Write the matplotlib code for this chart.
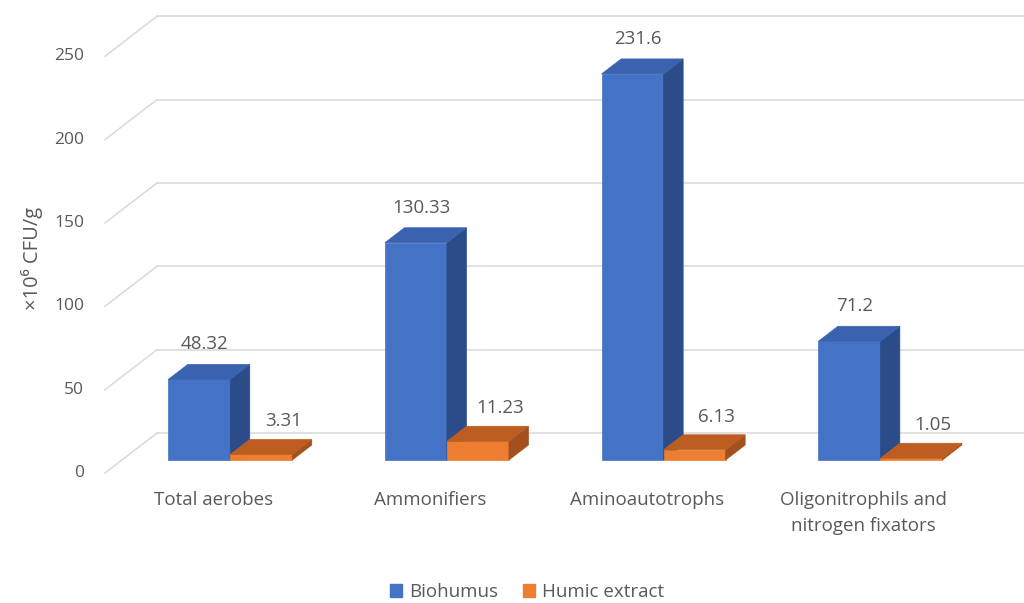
import matplotlib
matplotlib.use("Agg")
import matplotlib.pyplot as plt
from matplotlib.patches import Polygon, Patch

plt.rcParams["font.family"] = ["Open Sans", "DejaVu Sans"]

# ── Data ──────────────────────────────────────────────────────────────────────
categories = ["Total aerobes", "Ammonifiers", "Aminoautotrophs",
              "Oligonitrophils and\nnitrogen fixators"]
biohumus = [48.32, 130.33, 231.6, 71.2]
humic    = [3.31, 11.23, 6.13, 1.05]
series_names = ["Biohumus", "Humic extract"]
yticks = [0, 50, 100, 150, 200, 250]

# front / top / side shades per series
COLORS = [("#4472C4", "#3A62AE", "#2B4C88"),
          ("#ED7D31", "#BC5D22", "#A3501C")]
TEXT  = "#595959"
GRID  = "#D9D9D9"

# ── Fake 3-D geometry (pixel based) ───────────────────────────────────────────
W, H = 1024, 603
PX_CAT = 216.7          # px per category
PX_VAL = 1.667          # px per unit of value
X0_PX, Y0_PX = 105, 473 # front-left floor corner
DX = 52 / PX_CAT        # full depth vector in data units
DY = 40 / PX_VAL
F0, F1 = 0.325, 0.70    # bar depth slab (fraction of floor depth)
BAR_W = 62 / PX_CAT

fig = plt.figure(figsize=(W / 100, H / 100), dpi=100)
ax = fig.add_axes([0, 0, 1, 1])
ax.axis("off")
xlo = -0.5 - X0_PX / PX_CAT
ylo = -(H - Y0_PX) / PX_VAL
ax.set_xlim(xlo, xlo + W / PX_CAT)
ax.set_ylim(ylo, ylo + H / PX_VAL)

# walls / gridlines
n = len(categories)
for v in yticks:
    ax.plot([-0.5 + DX, n - 0.5 + DX], [v + DY, v + DY], color=GRID, lw=1.1, zorder=1)
    ax.plot([-0.5, -0.5 + DX], [v, v + DY], color=GRID, lw=1.1, zorder=1)
    ax.text(-0.5 - 21 / PX_CAT, v, f"{v}", ha="right", va="center",
            fontsize=12.5, color=TEXT)

# bars
ddx, ddy = (F1 - F0) * DX, (F1 - F0) * DY
base = F0 * DY
label_off = [(5, 35), (22, 33)]   # px offsets of value labels
for i in range(n):
    for s, vals in enumerate([biohumus, humic]):
        v = vals[i]
        left = i + F0 * DX - BAR_W + s * BAR_W
        right = left + BAR_W
        front, top, side = COLORS[s]
        ax.add_patch(Polygon([(left, base), (right, base), (right, base + v), (left, base + v)],
                             closed=True, facecolor=front, edgecolor=front, lw=0.5, zorder=3))
        ax.add_patch(Polygon([(right, base), (right + ddx, base + ddy),
                              (right + ddx, base + ddy + v), (right, base + v)],
                             closed=True, facecolor=side, edgecolor=side, lw=0.5, zorder=3))
        ax.add_patch(Polygon([(left, base + v), (right, base + v),
                              (right + ddx, base + v + ddy), (left + ddx, base + v + ddy)],
                             closed=True, facecolor=top, edgecolor=top, lw=0.5, zorder=3))
        ox, oy = label_off[s]
        ax.annotate(f"{v:g}", xy=((left + right) / 2, base + v),
                    xytext=(ox * 0.72, oy * 0.72), textcoords="offset points",
                    ha="center", va="center", fontsize=13.5, color=TEXT, zorder=4)

# category labels
for i, name in enumerate(categories):
    ax.text(i, -10.5, name, ha="center", va="top", fontsize=13.5, color=TEXT,
            linespacing=1.6)

# axis title
fig.text(32 / W, 1 - 258 / H, "×10⁶ CFU/g", rotation=90, ha="center", va="center",
         fontsize=14.5, color=TEXT)

# legend
handles = [Patch(facecolor=c[0], edgecolor=c[0], label=nm) for c, nm in zip(COLORS, series_names)]
fig.legend(handles=handles, loc="center", bbox_to_anchor=(527 / W, 11 / H), ncol=2,
           frameon=False, fontsize=13.5, labelcolor=TEXT, handlelength=0.65,
           handleheight=0.65, handletextpad=0.4, columnspacing=1.3)

fig.savefig("out.png", dpi=100)
